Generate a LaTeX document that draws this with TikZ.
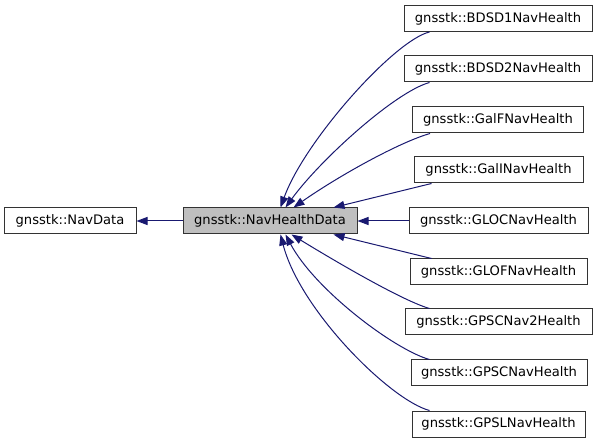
\documentclass[tikz,border=0pt]{standalone}
\usepackage{fontspec}
\setmainfont{DejaVu Sans}
\usetikzlibrary{arrows.meta,calc}
\definecolor{edgeblue}{HTML}{191970}
\definecolor{boxgray}{HTML}{BFBFBF}
\tikzset{
  cls/.style={draw=black!80, line width=1pt, fill=white, rectangle, inner sep=0pt,
    minimum height=26pt, font=\fontsize{13.1}{15}\selectfont},
  inh/.style={draw=edgeblue, line width=1pt, -{Triangle[length=11pt,width=8pt]}, color=edgeblue}
}
\begin{document}
\begin{tikzpicture}[x=1pt,y=-1pt]
\useasboundingbox (0,0) rectangle (597,443);
\node[cls, minimum width=132pt] (nd) at (70,221) {gnsstk::NavData};
\node[cls, minimum width=174pt, fill=boxgray] (nhd) at (270,221) {gnsstk::NavHealthData};
\node[cls, minimum width=188pt] (bd1) at (498,18.5) {gnsstk::BDSD1NavHealth};
\node[cls, minimum width=188pt] (bd2) at (498,69) {gnsstk::BDSD2NavHealth};
\node[cls, minimum width=171pt] (galf) at (498,120) {gnsstk::GalFNavHealth};
\node[cls, minimum width=169pt] (gali) at (498.5,170) {gnsstk::GalINavHealth};
\node[cls, minimum width=179pt] (gloc) at (498.5,221) {gnsstk::GLOCNavHealth};
\node[cls, minimum width=177pt] (glof) at (498.5,272) {gnsstk::GLOFNavHealth};
\node[cls, minimum width=187pt] (gc2) at (498.5,322) {gnsstk::GPSCNav2Health};
\node[cls, minimum width=176pt] (gc) at (499,373) {gnsstk::GPSCNavHealth};
\node[cls, minimum width=173pt] (gl) at (498.5,424) {gnsstk::GPSLNavHealth};

\draw[inh] (nhd.west) -- (nd.east);
\draw[inh] ($(bd1.south west)+(26,0)$) .. controls (395,40) and (305,140) .. ($(nhd.north west)+(98,0)$);
\draw[inh] ($(bd2.south west)+(26,0)$) .. controls (395,92) and (320,160) .. ($(nhd.north west)+(103,0)$);
\draw[inh] ($(galf.south west)+(18,0)$) .. controls (400,142) and (340,175) .. ($(nhd.north west)+(111,0)$);
\draw[inh] ($(gali.south west)+(18,0)$) -- ($(nhd.north west)+(151,0)$);
\draw[inh] (gloc.west) -- (nhd.east);
\draw[inh] ($(glof.north west)+(22,0)$) -- ($(nhd.south west)+(151,0)$);
\draw[inh] ($(gc2.north west)+(25,0)$) .. controls (400,300) and (325,255) .. ($(nhd.south west)+(109,0)$);
\draw[inh] ($(gc.north west)+(19,0)$) .. controls (395,350) and (315,290) .. ($(nhd.south west)+(103,0)$);
\draw[inh] ($(gl.north west)+(18,0)$) .. controls (390,400) and (300,310) .. ($(nhd.south west)+(98,0)$);
\end{tikzpicture}
\end{document}
